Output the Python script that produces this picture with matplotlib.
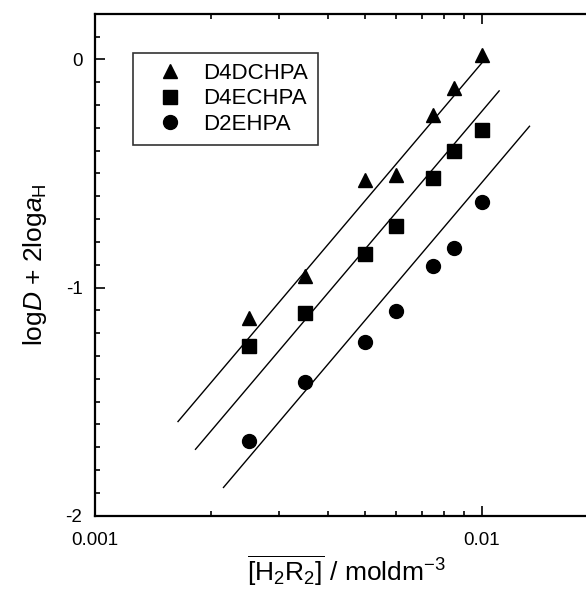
import numpy as np
import matplotlib
matplotlib.use("Agg")
import matplotlib.pyplot as plt
from matplotlib.ticker import LogLocator, FixedLocator, NullFormatter, MultipleLocator

plt.rcParams['font.family'] = ['Liberation Sans', 'DejaVu Sans']
plt.rcParams['mathtext.fontset'] = 'custom'
plt.rcParams['mathtext.rm'] = 'Liberation Sans'
plt.rcParams['mathtext.it'] = 'Liberation Sans:italic'

# data
conc = [0.0025, 0.0035, 0.005, 0.006, 0.0075, 0.0085, 0.01]
d4dchpa = [-1.134, -0.950, -0.529, -0.507, -0.244, -0.126, 0.019]
d4echpa = [-1.256, -1.112, -0.853, -0.730, -0.520, -0.402, -0.310]
d2ehpa = [-1.673, -1.414, -1.239, -1.103, -0.906, -0.827, -0.625]

# slope-2 lines: intercept, x start, x end
fit_slope = 2.0
fit_icpt = [3.983, 3.771, 3.459]
fit_x0 = [0.00164, 0.00182, 0.00215]
fit_x1 = [0.0101, 0.0111, 0.0133]

labels = ["D4DCHPA", "D4ECHPA", "D2EHPA"]
markers = ["^", "s", "o"]
sizes = [10, 9.5, 10]

fig = plt.figure(figsize=(5.86, 5.90), dpi=100)
ax = fig.add_axes([0.162, 0.1259, 0.8585, 0.8509])

for ys, lab, m, ms in zip([d4dchpa, d4echpa, d2ehpa], labels, markers, sizes):
    ax.plot(conc, ys, linestyle="none", marker=m, ms=ms, color="black", label=lab)

for c, x0, x1 in zip(fit_icpt, fit_x0, fit_x1):
    xx = np.array([x0, x1])
    ax.plot(xx, fit_slope * np.log10(xx) + c, color="black", lw=1.0)

ax.set_xscale("log")
ax.set_xlim(0.001, 0.02)
ax.set_ylim(-2, 0.2)

ax.xaxis.set_major_locator(FixedLocator([0.001, 0.01]))
ax.xaxis.set_minor_locator(LogLocator(base=10, subs=np.arange(2, 10)))
ax.xaxis.set_minor_formatter(NullFormatter())
ax.set_xticklabels(["0.001", "0.01"])
ax.yaxis.set_major_locator(FixedLocator([-2, -1, 0]))
ax.yaxis.set_minor_locator(MultipleLocator(0.1))
ax.set_yticklabels(["-2", "-1", "0"])

ax.tick_params(which="both", direction="in", top=True, right=False, labelsize=13.5, width=1.2)
ax.tick_params(which="major", length=7)
ax.tick_params(axis="y", which="major", pad=9)
ax.tick_params(axis="x", which="major", pad=12)
ax.tick_params(which="minor", length=3.5)
for s in ax.spines.values():
    s.set_linewidth(1.6)

ax.set_xlabel(r"$\overline{[\mathrm{H_2R_2}]}$ / moldm$^{-3}$", fontsize=19, labelpad=3)
ax.set_ylabel(r"log$D$ + 2log$a_\mathrm{H}$", fontsize=19, labelpad=12)

leg = ax.legend(loc="upper left", bbox_to_anchor=(0.0755, 0.922), fontsize=16,
                frameon=True, fancybox=False, edgecolor="black", handletextpad=0.3,
                borderpad=0.45, borderaxespad=0, labelspacing=0.2, handlelength=2.4)
leg.get_frame().set_linewidth(1.2)

fig.savefig("out.png", dpi=100)
